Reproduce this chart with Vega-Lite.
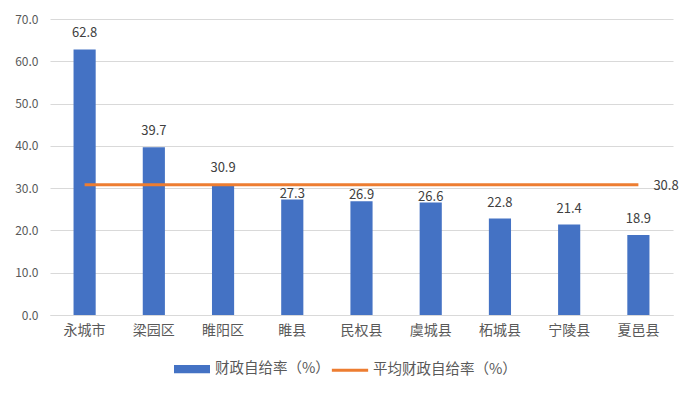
{
  "$schema": "https://vega.github.io/schema/vega-lite/v6.json",
  "width": 623,
  "height": 296,
  "autosize": {"type": "none"},
  "padding": {"left": 50, "top": 19, "right": 19, "bottom": 79},
  "background": "white",
  "config": {
    "view": {"stroke": null},
    "font": "Noto Sans CJK SC",
    "axis": {"labelFont": "Noto Sans CJK SC", "labelColor": "#595959", "title": null}
  },
  "data": {
    "values": [
      {"region": "永城市", "rate": 62.8, "avg": 30.8, "s1": "财政自给率（%）", "s2": "平均财政自给率（%）"},
      {"region": "梁园区", "rate": 39.7, "avg": 30.8, "s1": "财政自给率（%）", "s2": "平均财政自给率（%）"},
      {"region": "睢阳区", "rate": 30.9, "avg": 30.8, "s1": "财政自给率（%）", "s2": "平均财政自给率（%）"},
      {"region": "睢县", "rate": 27.3, "avg": 30.8, "s1": "财政自给率（%）", "s2": "平均财政自给率（%）"},
      {"region": "民权县", "rate": 26.9, "avg": 30.8, "s1": "财政自给率（%）", "s2": "平均财政自给率（%）"},
      {"region": "虞城县", "rate": 26.6, "avg": 30.8, "s1": "财政自给率（%）", "s2": "平均财政自给率（%）"},
      {"region": "柘城县", "rate": 22.8, "avg": 30.8, "s1": "财政自给率（%）", "s2": "平均财政自给率（%）"},
      {"region": "宁陵县", "rate": 21.4, "avg": 30.8, "s1": "财政自给率（%）", "s2": "平均财政自给率（%）"},
      {"region": "夏邑县", "rate": 18.9, "avg": 30.8, "s1": "财政自给率（%）", "s2": "平均财政自给率（%）"}
    ]
  },
  "encoding": {
    "x": {
      "field": "region", "type": "nominal", "sort": null,
      "scale": {"paddingInner": 0.68, "paddingOuter": 0.34},
      "axis": {"labelAngle": 0, "labelFontSize": 14, "labelPadding": 8, "ticks": false, "domainColor": "#D9D9D9", "domainWidth": 1}
    }
  },
  "layer": [
    {
      "mark": {"type": "bar", "color": "#4472C4"},
      "encoding": {
        "y": {
          "field": "rate", "type": "quantitative",
          "scale": {"domain": [0, 70]},
          "axis": {"values": [0, 10, 20, 30, 40, 50, 60, 70], "format": ".1f", "labelFontSize": 12, "labelPadding": 12, "ticks": false, "domain": false, "gridColor": "#D9D9D9", "gridWidth": 1}
        },
        "color": {
          "field": "s1", "type": "nominal",
          "scale": {"domain": ["财政自给率（%）", "平均财政自给率（%）"], "range": ["#4472C4", "#ED7D31"]},
          "legend": {
            "title": null, "orient": "none", "direction": "horizontal",
            "legendX": 124, "legendY": 332,
            "labelFontSize": 14.5, "labelColor": "#595959", "labelFont": "Noto Sans CJK SC",
            "symbolSize": 1089, "symbolOffset": 0, "columnPadding": -5, "labelOffset": 5,
            "encode": {
              "symbols": {
                "update": {
                  "shape": {"signal": "datum.value === '财政自给率（%）' ? 'M-1,-0.16H1V0.16H-1Z' : 'M-1.1,0H1.1'"},
                  "fill": {"signal": "datum.value === '财政自给率（%）' ? '#4472C4' : 'transparent'"},
                  "stroke": {"signal": "datum.value === '财政自给率（%）' ? 'transparent' : '#ED7D31'"},
                  "strokeWidth": {"value": 3},
                  "opacity": {"value": 1}
                }
              }
            }
          }
        }
      }
    },
    {
      "transform": [{"filter": "datum.rate < 26 || datum.rate > 30"}],
      "mark": {"type": "text", "baseline": "bottom", "dy": -9, "fontSize": 13, "color": "#404040", "font": "Noto Sans CJK SC"},
      "encoding": {
        "y": {"field": "rate", "type": "quantitative"},
        "text": {"field": "rate", "type": "quantitative", "format": ".1f"}
      }
    },
    {
      "transform": [{"filter": "datum.rate >= 26 && datum.rate <= 30"}],
      "mark": {"type": "text", "baseline": "bottom", "dy": 1, "fontSize": 13, "color": "#404040", "font": "Noto Sans CJK SC"},
      "encoding": {
        "y": {"field": "rate", "type": "quantitative"},
        "text": {"field": "rate", "type": "quantitative", "format": ".1f"}
      }
    },
    {
      "mark": {"type": "line", "strokeWidth": 3},
      "encoding": {
        "y": {"field": "avg", "type": "quantitative"},
        "color": {"field": "s2", "type": "nominal"}
      }
    },
    {
      "transform": [{"filter": "datum.region === '夏邑县'"}],
      "mark": {"type": "text", "align": "left", "baseline": "middle", "dx": 15, "dy": 1, "fontSize": 13, "color": "#404040", "font": "Noto Sans CJK SC"},
      "encoding": {
        "y": {"field": "avg", "type": "quantitative"},
        "text": {"field": "avg", "type": "quantitative", "format": ".1f"}
      }
    }
  ]
}
